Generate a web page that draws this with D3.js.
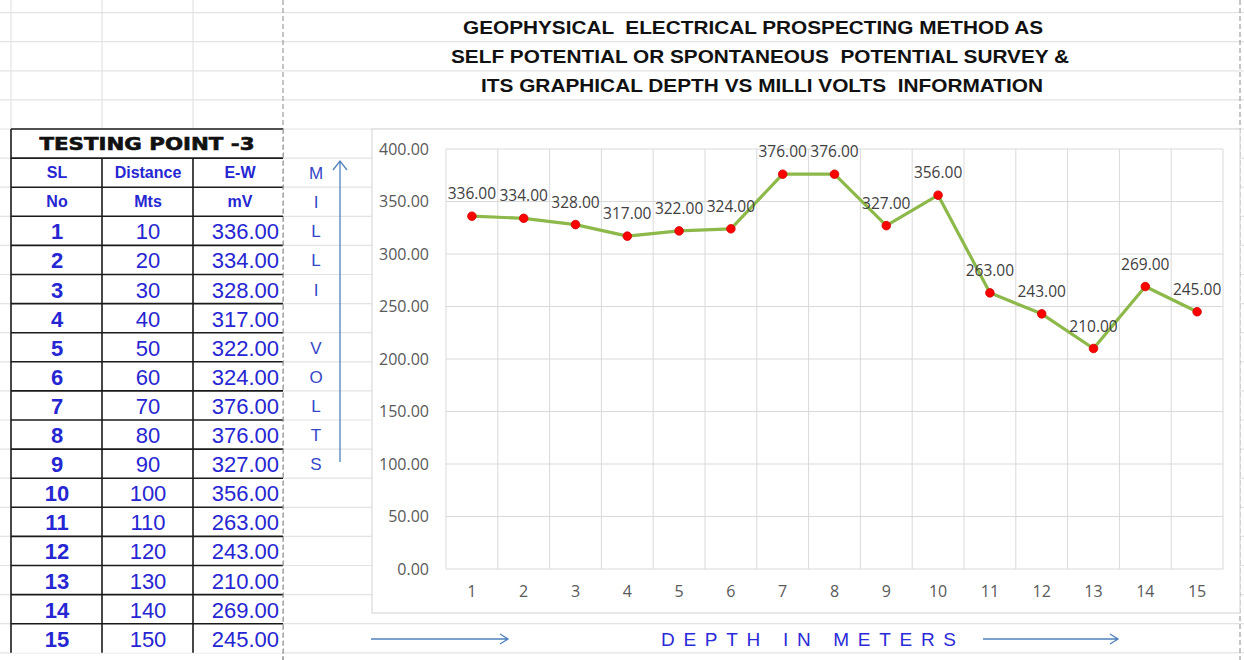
<html>
<head>
<meta charset="utf-8">
<title>Self Potential Survey - Testing Point 3</title>
<style>
  body { margin:0; padding:0; background:white; }
  svg { display:block; }
  text { white-space: pre; }
</style>
</head>
<body>
<svg id="image" width="1244" height="660"></svg>
<script src="https://d3js.org/d3.v7.min.js"></script>
<script>
// ---- data ----
var serialNo  = [1,2,3,4,5,6,7,8,9,10,11,12,13,14,15];
var distances = [10,20,30,40,50,60,70,80,90,100,110,120,130,140,150];
var milliVolts = [336,334,328,317,322,324,376,376,327,356,263,243,210,269,245];
var categories = ["1","2","3","4","5","6","7","8","9","10","11","12","13","14","15"];
var yTicks = [0,50,100,150,200,250,300,350,400];
var titleLines = [
  "GEOPHYSICAL  ELECTRICAL PROSPECTING METHOD AS",
  "SELF POTENTIAL OR SPONTANEOUS  POTENTIAL SURVEY &",
  "ITS GRAPHICAL DEPTH VS MILLI VOLTS  INFORMATION"
];
var sideLetters = ["M","I","L","L","I","","V","O","L","T","S"];
var headerTop = ["SL","Distance","E-W"];
var headerBottom = ["No","Mts","mV"];

var svg = d3.select("#image");
var W = 1244, H = 660;

// sheet rows
var rowH = 29.1, row0 = 12.6;
function rowY(i) { return row0 + i * rowH; }
var colX = [11, 102, 193, 283];
var blue = "#2626d2";
var axisBlue = "#4f81bd";

// ---- spreadsheet grid ----
var grid = svg.append("g");
d3.range(0, 23).forEach(function(i) {
  grid.append("line").attr("x1", 0).attr("x2", W)
    .attr("y1", rowY(i)).attr("y2", rowY(i))
    .attr("stroke", "#e3e3e3").attr("stroke-width", 1.2);
});
[11, 102, 193].forEach(function(x) {
  grid.append("line").attr("x1", x).attr("x2", x)
    .attr("y1", 0).attr("y2", rowY(4))
    .attr("stroke", "#e3e3e3").attr("stroke-width", 1.2);
});
// page break lines
[283, 1240].forEach(function(x) {
  grid.append("line").attr("x1", x).attr("x2", x)
    .attr("y1", 0).attr("y2", H)
    .attr("stroke", "#8a8a8a").attr("stroke-width", 1)
    .attr("stroke-dasharray", "5,3");
});

// ---- title ----
var titleX = [753, 760, 762], titleLen = [580, 618, 562];
titleLines.forEach(function(t, i) {
  svg.append("text")
    .attr("x", titleX[i]).attr("y", rowY(i) + 21)
    .attr("text-anchor", "middle")
    .attr("font-family", "'Liberation Sans Narrow', 'Arial Narrow', 'Liberation Sans', Arial, sans-serif")
    .attr("font-weight", "bold").attr("font-size", 18)
    .attr("fill", "#111")
    .attr("textLength", titleLen[i]).attr("lengthAdjust", "spacingAndGlyphs")
    .text(t);
});

// ---- table ----
var table = svg.append("g");
var tTop = rowY(4), tBot = rowY(22);
table.append("rect").attr("x", colX[0]).attr("y", tTop)
  .attr("width", colX[3] - colX[0]).attr("height", tBot - tTop)
  .attr("fill", "white");
d3.range(4, 22).forEach(function(i) {
  table.append("line").attr("x1", colX[0]).attr("x2", colX[3])
    .attr("y1", rowY(i)).attr("y2", rowY(i))
    .attr("stroke", "#1a1a1a").attr("stroke-width", 1.6);
});
table.append("line").attr("x1", colX[0]).attr("x2", colX[0])
  .attr("y1", tTop).attr("y2", tBot)
  .attr("stroke", "#1a1a1a").attr("stroke-width", 1.6);
[colX[1], colX[2]].forEach(function(x) {
  table.append("line").attr("x1", x).attr("x2", x)
    .attr("y1", rowY(5)).attr("y2", tBot)
    .attr("stroke", "#1a1a1a").attr("stroke-width", 1.6);
});
svg.append("line").attr("x1", 283).attr("x2", 283).attr("y1", tTop).attr("y2", H)
  .attr("stroke", "#8a8a8a").attr("stroke-width", 1).attr("stroke-dasharray", "5,3");

table.append("text")
  .attr("x", 147).attr("y", rowY(4) + 21)
  .attr("text-anchor", "middle")
  .attr("font-family", "'DejaVu Sans', 'Liberation Sans', sans-serif")
  .attr("font-weight", "bold").attr("font-size", 17)
  .attr("fill", "#111").attr("stroke", "#111").attr("stroke-width", 0.6)
  .attr("textLength", 215).attr("lengthAdjust", "spacingAndGlyphs")
  .text("TESTING POINT -3");

var colCenters = [57, 148, 240];
[headerTop, headerBottom].forEach(function(hdr, r) {
  hdr.forEach(function(t, c) {
    table.append("text")
      .attr("x", colCenters[c]).attr("y", rowY(5 + r) + 20)
      .attr("text-anchor", "middle")
      .attr("font-family", "'Liberation Sans', Arial, sans-serif")
      .attr("font-weight", "bold").attr("font-size", 16)
      .attr("fill", blue)
      .text(t);
  });
});

serialNo.forEach(function(s, i) {
  var yb = rowY(7 + i) + 23;
  table.append("text").attr("x", 57).attr("y", yb)
    .attr("text-anchor", "middle")
    .attr("font-family", "'Liberation Sans', Arial, sans-serif")
    .attr("font-weight", "bold").attr("font-size", 22)
    .attr("fill", blue).text(s);
  table.append("text").attr("x", 148).attr("y", yb)
    .attr("text-anchor", "middle")
    .attr("font-family", "'Liberation Sans', Arial, sans-serif")
    .attr("font-size", 22)
    .attr("fill", blue).text(distances[i]);
  table.append("text").attr("x", 279).attr("y", yb)
    .attr("text-anchor", "end")
    .attr("font-family", "'Liberation Sans', Arial, sans-serif")
    .attr("font-size", 22)
    .attr("fill", blue).text(milliVolts[i].toFixed(2));
});

// ---- MILLI VOLTS side label and arrow ----
sideLetters.forEach(function(l, i) {
  svg.append("text").attr("x", 316).attr("y", rowY(5 + i) + 21)
    .attr("text-anchor", "middle")
    .attr("font-family", "'Liberation Sans', Arial, sans-serif")
    .attr("font-size", 17)
    .attr("fill", "#3446c8").text(l);
});
svg.append("path")
  .attr("d", "M340,462 L340,161 M333,170 L340,161 L347,170")
  .attr("fill", "none").attr("stroke", axisBlue).attr("stroke-width", 1.3);

// ---- chart ----
svg.append("rect")
  .attr("x", 372).attr("y", 129).attr("width", 868).attr("height", 484)
  .attr("fill", "white").attr("stroke", "#d9d9d9").attr("stroke-width", 1.2);

var x = d3.scaleBand().domain(categories).range([446, 1223]);
var y = d3.scaleLinear().domain([0, 400]).range([569, 149]);

var chart = svg.append("g");

// horizontal gridlines
chart.selectAll(".hgrid").data(yTicks).enter().append("line")
  .attr("x1", x.range()[0]).attr("x2", x.range()[1])
  .attr("y1", function(d) { return y(d); }).attr("y2", function(d) { return y(d); })
  .attr("stroke", "#d9d9d9").attr("stroke-width", 1);
// vertical gridlines at category boundaries
var bounds = categories.map(function(c) { return x(c); }).concat([x.range()[1]]);
chart.selectAll(".vgrid").data(bounds).enter().append("line")
  .attr("x1", function(d) { return d; }).attr("x2", function(d) { return d; })
  .attr("y1", y(400)).attr("y2", y(0))
  .attr("stroke", "#d9d9d9").attr("stroke-width", 1);

// y axis
var yAxis = chart.append("g").attr("transform", "translate(" + (x.range()[0] - 14) + ",0)")
  .call(d3.axisLeft(y).tickValues(yTicks).tickFormat(d3.format(".2f")).tickSize(0));
yAxis.select(".domain").remove();
yAxis.selectAll("text")
  .attr("font-family", "'Open Sans', 'Liberation Sans', sans-serif")
  .attr("font-size", 16).attr("fill", "#595959");

// x axis
var xAxis = chart.append("g").attr("transform", "translate(0," + (y(0) + 14) + ")")
  .call(d3.axisBottom(x).tickSize(0));
xAxis.select(".domain").remove();
xAxis.selectAll("text")
  .attr("font-family", "'Open Sans', 'Liberation Sans', sans-serif")
  .attr("font-size", 16).attr("fill", "#595959");

// line
var pts = milliVolts.map(function(v, i) { return { c: categories[i], v: v }; });
var line = d3.line()
  .x(function(d) { return x(d.c) + x.bandwidth() / 2; })
  .y(function(d) { return y(d.v); });
chart.append("path").datum(pts)
  .attr("d", line).attr("fill", "none")
  .attr("stroke", "#8db84a").attr("stroke-width", 3.2)
  .attr("stroke-linejoin", "round");

chart.selectAll(".pt").data(pts).enter().append("circle")
  .attr("cx", function(d) { return x(d.c) + x.bandwidth() / 2; })
  .attr("cy", function(d) { return y(d.v); })
  .attr("r", 4.3)
  .attr("fill", "#ff0000").attr("stroke", "#d00000").attr("stroke-width", 0.8);

chart.selectAll(".lbl").data(pts).enter().append("text")
  .attr("x", function(d) { return x(d.c) + x.bandwidth() / 2; })
  .attr("y", function(d) { return y(d.v) - 17; })
  .attr("text-anchor", "middle")
  .attr("font-family", "'Open Sans', 'Liberation Sans', sans-serif")
  .attr("font-size", 15.5).attr("fill", "#404040")
  .text(function(d) { return d.v.toFixed(2); });

// ---- DEPTH IN METERS ----
svg.append("text").attr("x", 661).attr("y", 646)
  .attr("font-family", "'Liberation Sans Narrow', 'Arial Narrow', 'Liberation Sans', sans-serif")
  .attr("font-size", 19).attr("fill", "#2a2ad8")
  .attr("textLength", 295).attr("lengthAdjust", "spacing")
  .text("DEPTH IN METERS");
svg.append("path")
  .attr("d", "M371,639 L508,639 M500,634 L508,639 L500,644 M983,639 L1118,639 M1110,634 L1118,639 L1110,644")
  .attr("fill", "none").attr("stroke", axisBlue).attr("stroke-width", 1.3);
</script>
</body>
</html>
